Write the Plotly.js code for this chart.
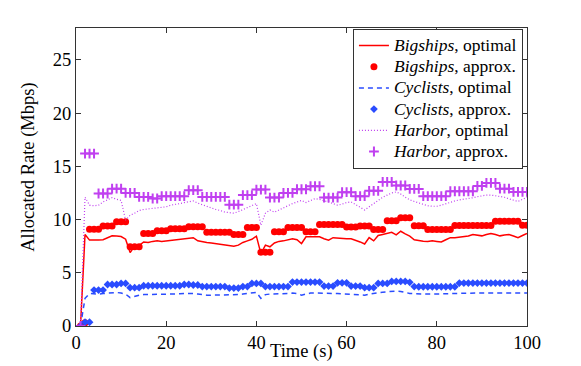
<!DOCTYPE html>
<html>
<head>
<meta charset="utf-8">
<script src="https://cdn.plot.ly/plotly-3.0.1.min.js"></script>
<style>
  html, body { margin: 0; padding: 0; background: #fff; }
  #chart { width: 581px; height: 366px; }
</style>
</head>
<body>
<div id="chart"></div>
<script>
// time in seconds
let time = [
  1, 2, 3, 4, 5, 6, 7, 8, 9, 10,
  11, 12, 13, 14, 15, 16, 17, 18, 19, 20,
  21, 22, 23, 24, 25, 26, 27, 28, 29, 30,
  31, 32, 33, 34, 35, 36, 37, 38, 39, 40,
  41, 42, 43, 44, 45, 46, 47, 48, 49, 50,
  51, 52, 53, 54, 55, 56, 57, 58, 59, 60,
  61, 62, 63, 64, 65, 66, 67, 68, 69, 70,
  71, 72, 73, 74, 75, 76, 77, 78, 79, 80,
  81, 82, 83, 84, 85, 86, 87, 88, 89, 90,
  91, 92, 93, 94, 95, 96, 97, 98, 99, 100
];

// Bigships
let bigshipsOptimal = [
  0, 8.6, 8.07, 8.05, 8.07, 8.1, 8.3, 8.47, 8.45, 8.4,
  8.16, 6.9, 7.5, 7.55, 7.9, 7.85, 7.95, 8.0, 7.95, 8.0,
  8.07, 8.05, 8.1, 8.15, 8.2, 8.3, 8.0, 7.9, 7.85, 7.8,
  7.75, 7.65, 7.6, 7.55, 7.5, 7.6, 7.85, 8.0, 8.15, 8.44,
  6.8, 7.6, 7.44, 7.8, 7.95, 8.0, 8.1, 8.2, 8.1, 7.75,
  8.38, 8.38, 8.38, 8.38, 8.2, 8.07, 8.3, 8.25, 8.2, 8.2,
  8.2, 8.07, 7.9, 7.7, 8.3, 8.0, 8.5, 8.6, 8.7, 8.8,
  8.57, 8.9, 8.65, 8.44, 8.1, 8.0, 7.97, 7.95, 8.0, 7.95,
  7.9, 8.1, 8.3, 8.3, 8.35, 8.38, 8.45, 8.6, 8.5, 8.47,
  8.6, 8.7, 8.6, 8.47, 8.55, 8.6, 8.45, 8.3, 8.5, 8.7
];
let bigshipsApprox = [
  0, 0.3, 9.1, 9.1, 9.1, 9.4, 9.4, 9.4, 9.8, 9.8,
  9.8, 7.45, 7.45, 7.45, 8.7, 8.7, 8.7, 8.95, 8.95, 8.95,
  9.13, 9.13, 9.13, 9.13, 9.33, 9.33, 9.33, 9.33, 8.82, 8.82,
  8.82, 8.82, 8.82, 8.82, 8.6, 8.6, 8.6, 9.25, 9.25, 9.25,
  6.94, 6.94, 6.94, 8.85, 8.85, 8.85, 9.25, 9.25, 9.25, 9.25,
  8.85, 8.85, 8.85, 9.53, 9.53, 9.53, 9.53, 9.53, 9.53, 9.31,
  9.31, 9.31, 9.4, 9.4, 9.4, 9.07, 9.07, 9.07, 9.88, 9.88,
  9.88, 10.16, 10.16, 10.16, 9.41, 9.41, 9.41, 9.07, 9.07, 9.07,
  9.07, 9.07, 9.07, 9.44, 9.44, 9.44, 9.44, 9.44, 9.44, 9.44,
  9.44, 9.44, 9.85, 9.85, 9.85, 9.85, 9.85, 9.85, 9.47, 9.47
];

// Cyclists
let cyclistsOptimal = [
  0, 2.6, 3.05, 3.0, 3.0, 3.05, 3.1, 3.15, 3.15, 3.1,
  3.0, 2.66, 2.8, 2.9, 2.95, 2.95, 3.0, 3.0, 3.0, 3.0,
  3.0, 3.0, 3.02, 3.05, 3.07, 3.05, 3.0, 2.92, 2.9, 2.9,
  2.9, 2.88, 2.88, 2.9, 2.9, 2.95, 3.0, 3.05, 3.1, 3.16,
  2.6, 2.95, 3.0, 3.0, 3.0, 3.02, 3.05, 3.1, 3.05, 2.9,
  3.0, 3.1, 3.1, 3.1, 3.1, 3.1, 3.1, 3.05, 3.02, 3.0,
  3.0, 2.98, 2.93, 2.9, 3.0, 3.08, 3.13, 3.18, 3.22, 3.26,
  3.28, 3.25, 3.15, 3.06, 3.03, 3.0, 3.0, 3.0, 3.0, 3.0,
  3.0, 3.03, 3.05, 3.06, 3.07, 3.08, 3.1, 3.1, 3.1, 3.1,
  3.1, 3.1, 3.1, 3.1, 3.1, 3.1, 3.08, 3.1, 3.1, 3.1
];
let cyclistsApprox = [
  0, 0.35, 0.35, 3.38, 3.38, 3.38, 3.9, 3.9, 3.9, 4.0,
  4.0, 3.6, 3.6, 3.6, 3.78, 3.78, 3.78, 3.78, 3.78, 3.78,
  3.78, 3.78, 3.78, 3.9, 3.9, 3.85, 3.85, 3.7, 3.7, 3.7,
  3.7, 3.7, 3.7, 3.56, 3.56, 3.56, 3.7, 3.7, 4.0, 4.0,
  4.0, 3.7, 3.7, 3.7, 3.7, 3.7, 3.7, 4.13, 4.13, 4.13,
  4.13, 4.13, 4.13, 4.13, 3.75, 3.75, 3.75, 4.06, 4.06, 4.06,
  3.75, 3.75, 3.75, 3.6, 3.6, 3.6, 4.0, 4.0, 4.0, 4.19,
  4.19, 4.19, 4.19, 4.1, 3.7, 3.69, 3.69, 3.69, 3.69, 3.69,
  3.69, 3.69, 3.69, 3.69, 4.03, 4.03, 4.03, 4.03, 4.03, 4.03,
  4.03, 4.03, 4.03, 4.03, 4.03, 4.03, 4.03, 4.03, 4.03, 4.03
];

// Harbor
let harborOptimal = [
  0, 12.1, 11.35, 11.3, 11.35, 11.66, 11.85, 12.07, 11.9, 11.8,
  9.94, 10.4, 10.6, 10.85, 10.95, 11.0, 11.0, 11.04, 11.1, 11.2,
  11.35, 11.4, 11.5, 11.6, 11.7, 11.75, 11.55, 11.4, 11.2, 11.05,
  10.95, 10.85, 10.7, 10.65, 10.6, 10.75, 10.95, 11.15, 11.35, 11.5,
  9.47, 10.6, 10.9, 10.7, 10.9, 11.1, 11.35, 11.5, 11.65, 11.8,
  11.6, 11.8, 11.97, 11.9, 11.8, 11.65, 11.5, 11.35, 11.45, 11.6,
  11.66, 11.4, 11.1, 10.9, 11.2, 11.5, 11.8, 12.1, 12.3, 12.5,
  12.6, 12.4, 12.1, 11.85, 11.7, 11.55, 11.4, 11.3, 11.25, 11.25,
  11.35, 11.5, 11.66, 11.75, 11.85, 11.9, 11.97, 12.05, 12.15, 12.25,
  12.3, 12.3, 12.25, 12.15, 12.1, 11.95, 11.8, 11.7, 11.9, 12.1
];
let harborApprox = [
  0, 16.2, 16.2, 16.2, 12.45, 12.45, 12.45, 12.9, 12.9, 12.9,
  12.5, 12.5, 12.5, 12.13, 12.13, 12.13, 11.98, 11.98, 12.2, 12.2,
  12.2, 12.2, 12.2, 12.2, 12.76, 12.76, 12.76, 12.13, 12.13, 12.13,
  12.13, 12.13, 12.13, 11.4, 11.4, 11.4, 12.3, 12.3, 12.3, 12.82,
  12.82, 12.82, 12.07, 12.07, 12.07, 12.5, 12.5, 12.5, 12.85, 12.85,
  12.85, 13.13, 13.13, 13.13, 12.07, 12.07, 12.07, 12.07, 12.57, 12.57,
  12.57, 12.2, 12.2, 12.2, 12.7, 12.7, 12.7, 13.54, 13.54, 13.54,
  13.2, 13.2, 13.2, 12.88, 12.88, 12.88, 12.2, 12.2, 12.2, 12.2,
  12.2, 12.2, 12.66, 12.66, 12.66, 12.66, 12.66, 12.66, 13.16, 13.16,
  13.44, 13.44, 13.44, 12.9, 12.9, 12.9, 12.6, 12.6, 12.6, 12.6
];

let red = "#ff0000";
let blue = "#2a4cff";
let purple = "#c040f0";

// legend rows are spaced from the legend font size, the text itself is set bigger
let big = s => '<span style="font-size:17.5px">' + s + '</span>';

let traces = [
  {
    x: time, y: bigshipsOptimal, name: big("<i>Bigships</i>, optimal"),
    type: "scatter", mode: "lines",
    line: {color: red, width: 1.5}
  },
  {
    x: time, y: bigshipsApprox, name: big("<i>Bigships</i>, approx."),
    type: "scatter", mode: "markers",
    marker: {color: red, size: 7, symbol: "circle"}
  },
  {
    x: time, y: cyclistsOptimal, name: big("<i>Cyclists</i>, optimal"),
    type: "scatter", mode: "lines",
    line: {color: blue, width: 1.5, dash: "5px,4px"}
  },
  {
    x: time, y: cyclistsApprox, name: big("<i>Cyclists</i>, approx."),
    type: "scatter", mode: "markers",
    marker: {color: blue, size: 6, symbol: "diamond"}
  },
  {
    x: time, y: harborOptimal, name: big("<i>Harbor</i>, optimal"),
    type: "scatter", mode: "lines",
    line: {color: purple, width: 1.2, dash: "1px,2px"}
  },
  {
    x: time, y: harborApprox, name: big("<i>Harbor</i>, approx."),
    type: "scatter", mode: "markers",
    marker: {color: purple, size: 7, symbol: "cross-thin", line: {color: purple, width: 2}}
  }
];

let serif = "Liberation Serif, Times New Roman, serif";
let axisFont = {family: serif, size: 18.5, color: "#000"};

let layout = {
  width: 581,
  height: 366,
  margin: {l: 76, r: 54, t: 28, b: 40},
  paper_bgcolor: "#fff",
  plot_bgcolor: "#fff",
  showlegend: true,
  font: axisFont,
  xaxis: {
    range: [0, 100],
    tickvals: [0, 20, 40, 60, 80, 100],
    ticks: "inside",
    ticklen: 5,
    tickcolor: "#333",
    showline: true,
    linecolor: "#333",
    linewidth: 1,
    mirror: "ticks",
    showgrid: false,
    zeroline: false,
    tickfont: axisFont
  },
  yaxis: {
    range: [0, 28],
    tickvals: [0, 5, 10, 15, 20, 25],
    ticks: "inside",
    ticklen: 5,
    tickcolor: "#333",
    showline: true,
    linecolor: "#333",
    linewidth: 1,
    mirror: "ticks",
    showgrid: false,
    zeroline: false,
    tickfont: axisFont
  },
  // axis titles placed as in the original (x title tucked under the tick labels)
  annotations: [
    {
      text: "Time (s)",
      xref: "paper", yref: "paper",
      x: 0.5, y: 0,
      xanchor: "center", yanchor: "middle",
      yshift: -25,
      showarrow: false,
      font: axisFont
    },
    {
      text: "Allocated Rate (Mbps)",
      xref: "paper", yref: "paper",
      x: 0, y: 0.534,
      xanchor: "center", yanchor: "middle",
      xshift: -47,
      textangle: -90,
      showarrow: false,
      font: axisFont
    }
  ],
  legend: {
    x: 0.991, y: 0.997,
    xanchor: "right", yanchor: "top",
    bgcolor: "#fff",
    bordercolor: "#333",
    borderwidth: 1,
    itemwidth: 30,
    tracegroupgap: 0,
    font: {family: serif, size: 14, color: "#000"}
  }
};

Plotly.newPlot("chart", traces, layout, {displayModeBar: false, staticPlot: true});
</script>
</body>
</html>
